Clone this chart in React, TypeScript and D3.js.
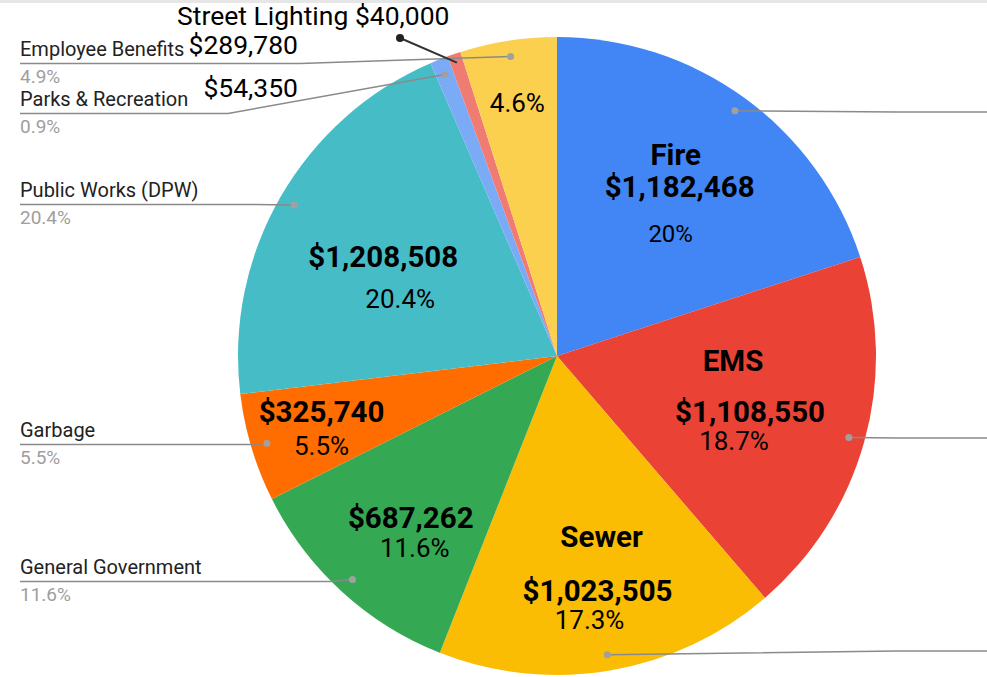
import React from "react";
import * as d3 from "d3";

const categories = [
  "Fire",
  "EMS",
  "Sewer",
  "General Government",
  "Garbage",
  "Public Works (DPW)",
  "Parks & Recreation",
  "Street Lighting",
  "Employee Benefits",
];
const values = [1182468, 1108550, 1023505, 687262, 325740, 1208508, 54350, 40000, 289780];
const colors = ["#4285F4", "#EA4335", "#FBBC04", "#34A853", "#FF6D01", "#46BDC6", "#7BAAF7", "#F07B72", "#FCD04F"];
const insideTitles = ["Fire", "EMS", "Sewer", "", "", "", "", "", ""];
const insideValueShown = [true, true, true, true, true, true, false, false, false];
const insidePercents = ["20%", "18.7%", "17.3%", "11.6%", "5.5%", "20.4%", "", "", "4.6%"];
const sideLabelPercents = ["20%", "18.7%", "17.3%", "11.6%", "5.5%", "20.4%", "0.9%", "0.7%", "4.9%"];

const W = 987;
const H = 677;
const CX = 557;
const CY = 356;
const R = 319;
const fmt = d3.format("$,");

// label layout (radius along mid-angle, then offsets of lines)
const labelLayout: Record<number, { r: number; lines: { k: string; dx: number; dy: number }[] }> = {
  0: { r: 197, lines: [{ k: "title", dx: 3, dy: -32 }, { k: "value", dx: 7, dy: 0 }, { k: "pct", dx: -2, dy: 45 }] },
  1: { r: 189, lines: [{ k: "title", dx: -6, dy: -36 }, { k: "value", dx: 11, dy: 15 }, { k: "pct", dx: -5, dy: 43 }] },
  2: { r: 232, lines: [{ k: "title", dx: 6, dy: -38 }, { k: "value", dx: 2, dy: 16 }, { k: "pct", dx: -6, dy: 44 }] },
  3: { r: 230, lines: [{ k: "value", dx: 9, dy: 2 }, { k: "pct", dx: 13, dy: 31 }] },
  4: { r: 249, lines: [{ k: "value", dx: 3, dy: -6 }, { k: "pct", dx: 3, dy: 27 }] },
  5: { r: 182, lines: [{ k: "value", dx: -16, dy: 2 }, { k: "pct", dx: 1, dy: 43 }] },
  8: { r: 259, lines: [{ k: "pct", dx: 0, dy: 12 }] },
};

// side (legend-like) label positions: left-side labels
const leftLabelY: Record<number, number> = { 8: 56, 6: 106, 5: 197, 4: 437, 3: 574 };
const leftLineBreakX: Record<number, number> = { 8: 300, 6: 228, 5: 250, 4: 250, 3: 330 };
const rightLineY: Record<number, number> = { 0: 112, 1: 438, 2: 651 };

export default function App() {
  const pie = d3
    .pie<number>()
    .sort(null)
    .value((d) => d)
    .startAngle(0)
    .endAngle(2 * Math.PI);
  const arcs = pie(values);
  const arc = d3.arc<d3.PieArcDatum<number>>().innerRadius(0).outerRadius(R);
  const pt = (a: number, r: number): [number, number] => [CX + r * Math.sin(a), CY - r * Math.cos(a)];
  const mid = (d: d3.PieArcDatum<number>) => (d.startAngle + d.endAngle) / 2;
  const DOT_R = 303;

  return (
    <svg
      width={W}
      height={H}
      style={{ position: "fixed", left: 0, top: 0, background: "#fff" }}
      fontFamily="Roboto, sans-serif"
    >
      <rect x={0} y={0} width={W} height={H} fill="#fff" />
      <g transform={`translate(${CX},${CY})`}>
        {arcs.map((d, i) => (
          <path key={i} d={arc(d) as string} fill={colors[i]} />
        ))}
      </g>

      {/* left side labels */}
      {arcs.map((d, i) => {
        if (leftLabelY[i] === undefined) return null;
        const y = leftLabelY[i];
        const [px, py] = pt(mid(d), DOT_R);
        const ly = y + 7.5;
        const bx = leftLineBreakX[i];
        return (
          <g key={"l" + i}>
            <polyline
              points={`20,${ly} ${bx},${ly} ${px},${py}`}
              fill="none"
              stroke="#8a8a8a"
              strokeWidth={1.5}
            />
            <circle cx={px} cy={py} r={3.5} fill="#a0a0a0" />
            <text x={20} y={y} fontSize={20} fill="#222">
              {categories[i]}
            </text>
            <text x={20} y={y + 27} fontSize={19} fill="#9e9e9e">
              {sideLabelPercents[i]}
            </text>
          </g>
        );
      })}

      {/* right side label lines (labels are cut off) */}
      {arcs.map((d, i) => {
        if (rightLineY[i] === undefined) return null;
        const [px, py] = pt(mid(d), DOT_R);
        const y = rightLineY[i];
        return (
          <g key={"r" + i}>
            <polyline points={`${px},${py} ${W - 90},${y} ${W},${y}`} fill="none" stroke="#8a8a8a" strokeWidth={1.5} />
            <circle cx={px} cy={py} r={3.5} fill="#a0a0a0" />
          </g>
        );
      })}

      {/* inside labels */}
      {arcs.map((d, i) => {
        const lay = labelLayout[i];
        if (!lay) return null;
        const [ax, ay] = pt(mid(d), lay.r);
        return (
          <g key={"in" + i}>
            {lay.lines.map((ln, j) => {
              let text = "";
              let bold = false;
              let size = 26;
              if (ln.k === "title") {
                text = insideTitles[i];
                bold = true;
                size = 29.5;
              } else if (ln.k === "value") {
                if (!insideValueShown[i]) return null;
                text = fmt(values[i]);
                bold = true;
                size = 29.5;
              } else {
                text = insidePercents[i];
                size = i === 0 ? 24 : 26;
              }
              return (
                <text
                  key={j}
                  x={ax + ln.dx}
                  y={ay + ln.dy}
                  textAnchor="middle"
                  fontSize={size}
                  fontWeight={bold ? 700 : 400}
                  fill="#000"
                >
                  {text}
                </text>
              );
            })}
          </g>
        );
      })}

      {/* manual value annotations near small slices */}
      <text x={298} y={54} textAnchor="end" fontSize={26.5} fill="#000">
        {fmt(values[8])}
      </text>
      <text x={298} y={97} textAnchor="end" fontSize={26.5} fill="#000">
        {fmt(values[6])}
      </text>
      <text x={177} y={25} fontSize={26.5} fill="#000">
        {categories[7] + " " + fmt(values[7])}
      </text>
      {(() => {
        const d = arcs[7];
        const [px, py] = pt(mid(d), 310);
        return (
          <g>
            <line x1={400} y1={38} x2={px} y2={py} stroke="#333" strokeWidth={2} />
            <circle cx={400} cy={38} r={4} fill="#222" />
          </g>
        );
      })()}
      <rect x={0} y={0} width={W} height={3} fill="#e6e6e6" />
    </svg>
  );
}
